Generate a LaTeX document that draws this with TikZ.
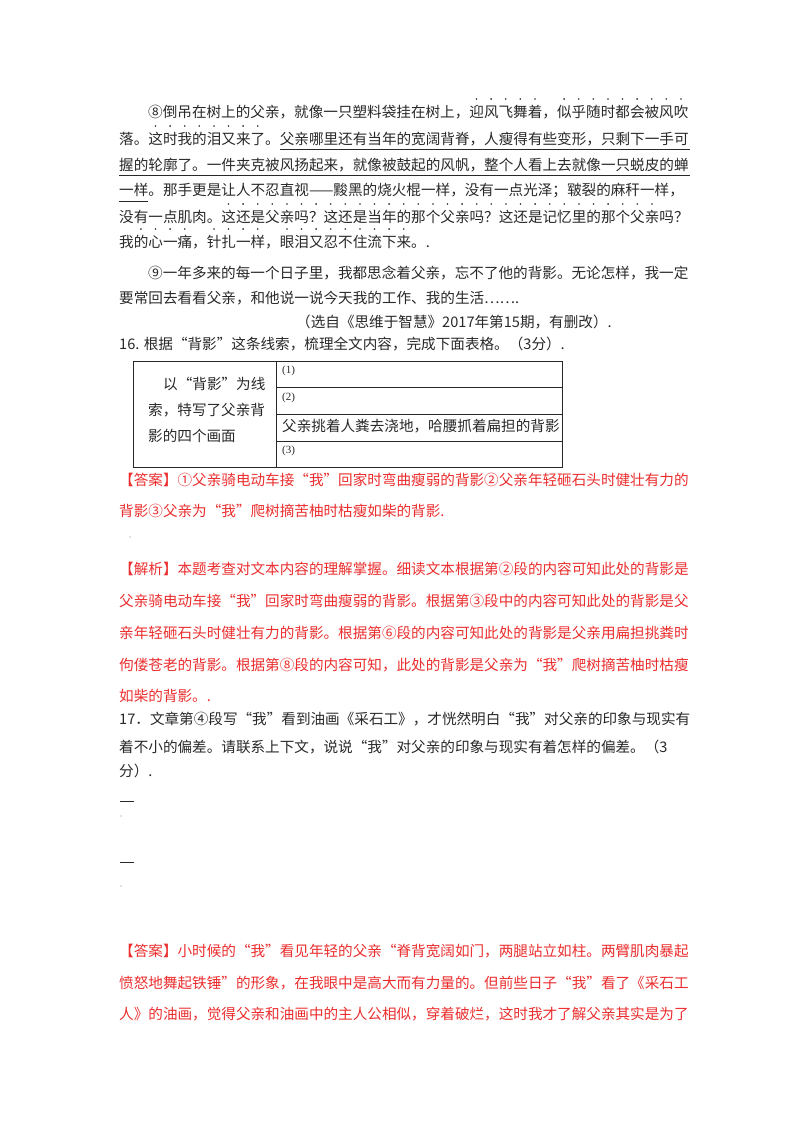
\documentclass[tikz,border=0pt]{standalone}
\usepackage{fontspec}
\setmainfont{Liberation Serif}
\newfontfamily\cjk{Noto Sans CJK SC}
\definecolor{ink}{RGB}{40,40,40}
\definecolor{ans}{RGB}{235,45,45}
\newcommand\dotrow[4]{% y, startx(left of line), from char, to char
  \foreach \k in {#3,...,#4}{\fill[ink] (#2+7.3+\k*14.6-14.6,#1-13) circle (0.9);}}
\begin{document}
\begin{tikzpicture}[x=1pt,y=-1pt,
  txt/.style={anchor=west,inner sep=0,font=\cjk\fontsize{14.6}{16}\selectfont,text=ink},
  red/.style={txt,text=ans},
  tline/.style={draw=ink,line width=0.7pt}]
\useasboundingbox (0,0) rectangle (800,1132);
\node[txt] (a1) at (148,112) {⑧倒吊在树上的父亲，就像一只塑料袋挂在树上，迎风飞舞着，似乎随时都会被风吹};
\node[txt] (a2) at (119,139) {落。这时我的泪又来了。父亲哪里还有当年的宽阔背脊，人瘦得有些变形，只剩下一手可};
\node[txt] (a3) at (119,165) {握的轮廓了。一件夹克被风扬起来，就像被鼓起的风帆，整个人看上去就像一只蜕皮的蝉};
\node[txt] (a4) at (119,191) {一样。那手更是让人不忍直视——黢黑的烧火棍一样，没有一点光泽；皲裂的麻秆一样，};
\node[txt] (a5) at (119,217) {没有一点肌肉。这还是父亲吗？这还是当年的那个父亲吗？这还是记忆里的那个父亲吗？};
\node[txt] (a6) at (119,242) {我的心一痛，针扎一样，眼泪又忍不住流下来。.};
\dotrow{112}{148}{23}{27}\dotrow{112}{148}{29}{37}
\dotrow{139}{119}{3}{10}
\dotrow{217}{119}{8}{37}
\dotrow{242}{119}{2}{5}\dotrow{242}{119}{7}{10}\dotrow{242}{119}{12}{20}
\draw[ink,line width=0.6pt] (280,149) -- (690,149);
\draw[ink,line width=0.6pt] (119,175) -- (690,175);
\draw[ink,line width=0.6pt] (119,201) -- (148,201);
\node[txt] (b1) at (148,273) {⑨一年多来的每一个日子里，我都思念着父亲，忘不了他的背影。无论怎样，我一定};
\node[txt] (b2) at (119,298) {要常回去看看父亲，和他说一说今天我的工作、我的生活…….};
\node[txt] (src) at (296,322) {（选自《思维于智慧》2017年第15期，有删改）.};
\node[txt] (q16) at (119,344) {16. 根据“背影”这条线索，梳理全文内容，完成下面表格。（3分）.};
\draw[tline] (133,361) rectangle (562,467);
\draw[tline] (276,361) -- (276,467);
\draw[tline] (276,387) -- (562,387);
\draw[tline] (276,414) -- (562,414);
\draw[tline] (276,441) -- (562,441);
\node[txt] (c1) at (163,384) {以“背影”为线};
\node[txt] (c2) at (148,410) {索，特写了父亲背};
\node[txt] (c3) at (148,436) {影的四个画面};
\node[txt,font=\fontsize{11}{12}\selectfont] (r1) at (282,371) {(1)};
\node[txt,font=\fontsize{11}{12}\selectfont] (r2) at (282,398) {(2)};
\node[txt] (r3) at (282,426) {父亲挑着人粪去浇地，哈腰抓着扁担的背影};
\node[txt,font=\fontsize{11}{12}\selectfont] (r4) at (282,451) {(3)};
\node[red] (d1) at (119,480) {【答案】①父亲骑电动车接“我”回家时弯曲瘦弱的背影②父亲年轻砸石头时健壮有力的};
\node[red] (d2) at (119,511) {背影③父亲为“我”爬树摘苦柚时枯瘦如柴的背影.};
\fill[gray] (130,537) circle (0.6);
\node[red] (e1) at (119,569) {【解析】本题考查对文本内容的理解掌握。细读文本根据第②段的内容可知此处的背影是};
\node[red] (e2) at (119,601) {父亲骑电动车接“我”回家时弯曲瘦弱的背影。根据第③段中的内容可知此处的背影是父};
\node[red] (e3) at (119,633) {亲年轻砸石头时健壮有力的背影。根据第⑥段的内容可知此处的背影是父亲用扁担挑粪时};
\node[red] (e4) at (119,665) {佝偻苍老的背影。根据第⑧段的内容可知，此处的背影是父亲为“我”爬树摘苦柚时枯瘦};
\node[red] (e5) at (119,696) {如柴的背影。.};
\node[txt] (f1) at (119,719) {17．文章第④段写“我”看到油画《采石工》，才恍然明白“我”对父亲的印象与现实有};
\node[txt] (f2) at (119,747) {着不小的偏差。请联系上下文，说说“我”对父亲的印象与现实有着怎样的偏差。（3};
\node[txt] (f3) at (119,771) {分）.};
\draw[ink,line width=1pt] (120,801) -- (134,801);
\fill[gray] (121,816) circle (0.6);
\draw[ink,line width=1pt] (120,862) -- (134,862);
\fill[gray] (121,886) circle (0.6);
\node[red] (g1) at (119,951) {【答案】小时候的“我”看见年轻的父亲“脊背宽阔如门，两腿站立如柱。两臂肌肉暴起};
\node[red] (g2) at (119,983) {愤怒地舞起铁锤”的形象，在我眼中是高大而有力量的。但前些日子“我”看了《采石工};
\node[red] (g3) at (119,1014) {人》的油画，觉得父亲和油画中的主人公相似，穿着破烂，这时我才了解父亲其实是为了};
\end{tikzpicture}
\end{document}
